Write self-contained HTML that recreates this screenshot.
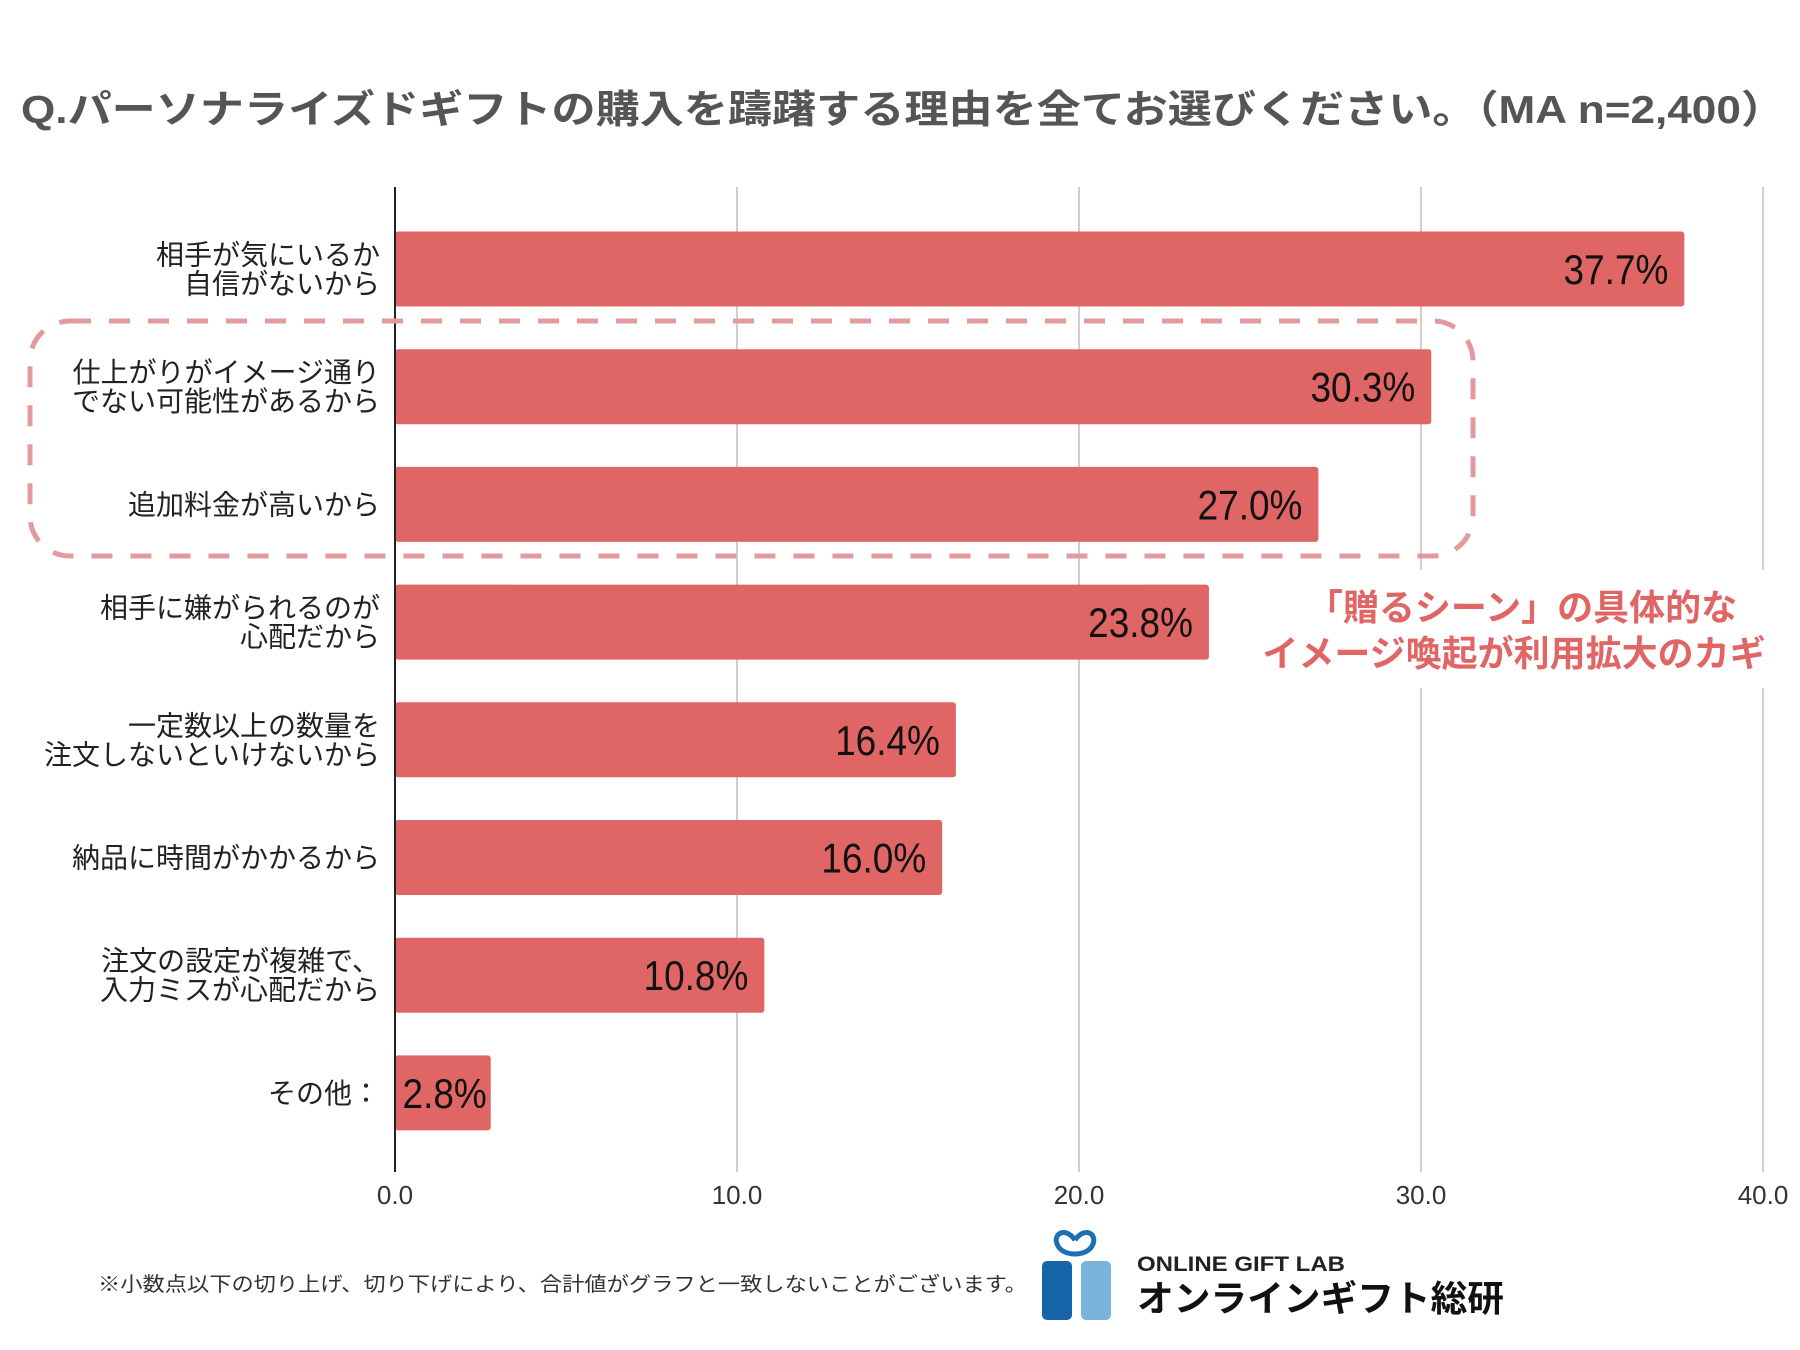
<!DOCTYPE html>
<html><head><meta charset="utf-8">
<style>
html,body{margin:0;padding:0;background:#fff;}
svg{display:block;}
text{font-family:"Liberation Sans","Noto Sans CJK JP",sans-serif;}
</style></head>
<body>
<svg id="chart" width="1800" height="1350" viewBox="0 0 1800 1350" xmlns="http://www.w3.org/2000/svg">
<rect width="1800" height="1350" fill="#fff"/>
<text x="21" y="123" font-size="39" font-weight="bold" fill="#555" textLength="1764" lengthAdjust="spacingAndGlyphs">Q.パーソナライズドギフトの購入を躊躇する理由を全てお選びください。（MA n=2,400）</text>
<g id="grid"></g>
<g id="bars"></g>
<rect x="30" y="321" width="1443" height="235" rx="40" ry="40" fill="none" stroke="#e39a9c" stroke-width="5" stroke-dasharray="21 18"/>
<rect x="1262" y="570" width="520" height="118" fill="#fff"/>
<text x="1522" y="620" font-size="36" font-weight="bold" fill="#e06666" text-anchor="middle">「贈るシーン」の具体的な</text>
<text x="1514" y="666" font-size="36" font-weight="bold" fill="#e06666" text-anchor="middle">イメージ喚起が利用拡大のカギ</text>
<g id="labels"></g>
<text x="98" y="1291" font-size="20" fill="#333" textLength="929" lengthAdjust="spacingAndGlyphs">※小数点以下の切り上げ、切り下げにより、合計値がグラフと一致しないことがございます。</text>
<g>
<path d="M1075 1240 c-10 -14 -22 -6 -18 4 c3 8 12 10 18 10 c6 0 15 -2 18 -10 c4 -10 -8 -18 -18 -4" fill="none" stroke="#1a6fb5" stroke-width="5"/>
<rect x="1042" y="1261" width="30" height="59" rx="5" fill="#1565a8"/>
<rect x="1081" y="1261" width="30" height="59" rx="5" fill="#7ab3dc"/>
<text x="1137" y="1271" font-size="21" font-weight="bold" fill="#222" textLength="208" lengthAdjust="spacingAndGlyphs">ONLINE GIFT LAB</text>
<text x="1137" y="1311" font-size="36" font-weight="bold" fill="#111" textLength="367" lengthAdjust="spacingAndGlyphs">オンラインギフト総研</text>
</g>
</svg>
<script>
const categories = [
  ["相手が気にいるか","自信がないから"],
  ["仕上がりがイメージ通り","でない可能性があるから"],
  ["追加料金が高いから"],
  ["相手に嫌がられるのが","心配だから"],
  ["一定数以上の数量を","注文しないといけないから"],
  ["納品に時間がかかるから"],
  ["注文の設定が複雑で、","入力ミスが心配だから"],
  ["その他："]
];
const values = [37.7, 30.3, 27.0, 23.8, 16.4, 16.0, 10.8, 2.8];
const valueLabels = ["37.7%","30.3%","27.0%","23.8%","16.4%","16.0%","10.8%","2.8%"];
const ticks = [0, 10, 20, 30, 40];
const tickLabels = ["0.0","10.0","20.0","30.0","40.0"];

const NS = "http://www.w3.org/2000/svg";
const x0 = 395, pxPerUnit = 34.2;
const xScale = v => x0 + v * pxPerUnit;
const yTop = 187, yBottom = 1172;
const firstCenter = 269, band = 117.7;
const yCenter = i => firstCenter + band * i;
const barH = 75;
function mk(tag, attrs, parent){ const e=document.createElementNS(NS,tag); for(const k in attrs) e.setAttribute(k,attrs[k]); parent.appendChild(e); return e; }

const grid = document.getElementById('grid');
ticks.forEach((t,i)=>{
  if(i>0){
    const l = mk('line',{x1:xScale(t),x2:xScale(t),y1:yTop,y2:yBottom,stroke:'#cfcfcf','stroke-width':2},grid);
    
    
  }
  const tx = mk('text',{x:xScale(t),y:1204,'font-size':26,fill:'#333','text-anchor':'middle'},grid);
  tx.textContent = tickLabels[i];
  
  
});

const bars = document.getElementById('bars');
values.forEach((v,i)=>{
  const cy = yCenter(i);
  const r = mk('rect',{x:x0,y:cy-barH/2,width:xScale(v)-x0,height:barH,rx:3,fill:'#e06666'},bars);
  
  
  const t = mk('text',{x:xScale(v)-(v<5?4:16),y:cy+15,'font-size':42,fill:'#111','text-anchor':'end'},bars);
  t.textContent = valueLabels[i];
  
  
  const w = t.getComputedTextLength();
  if (w > 0) { t.setAttribute('textLength', (w*0.88).toFixed(1)); t.setAttribute('lengthAdjust','spacingAndGlyphs'); }
});
const ax = mk('line',{x1:x0,x2:x0,y1:yTop,y2:yBottom,stroke:'#222','stroke-width':2},bars);



const labels = document.getElementById('labels');
categories.forEach((lines,i)=>{
  const cy = yCenter(i);
  const n = lines.length;
  lines.forEach((s,j)=>{
    const y = cy + (j - (n-1)/2) * 29 + 10;
    const t = mk('text',{x:380,y:y,'font-size':28,fill:'#222','text-anchor':'end'},labels);
    t.textContent = s;
    
    
  });
});
</script>
</body></html>
